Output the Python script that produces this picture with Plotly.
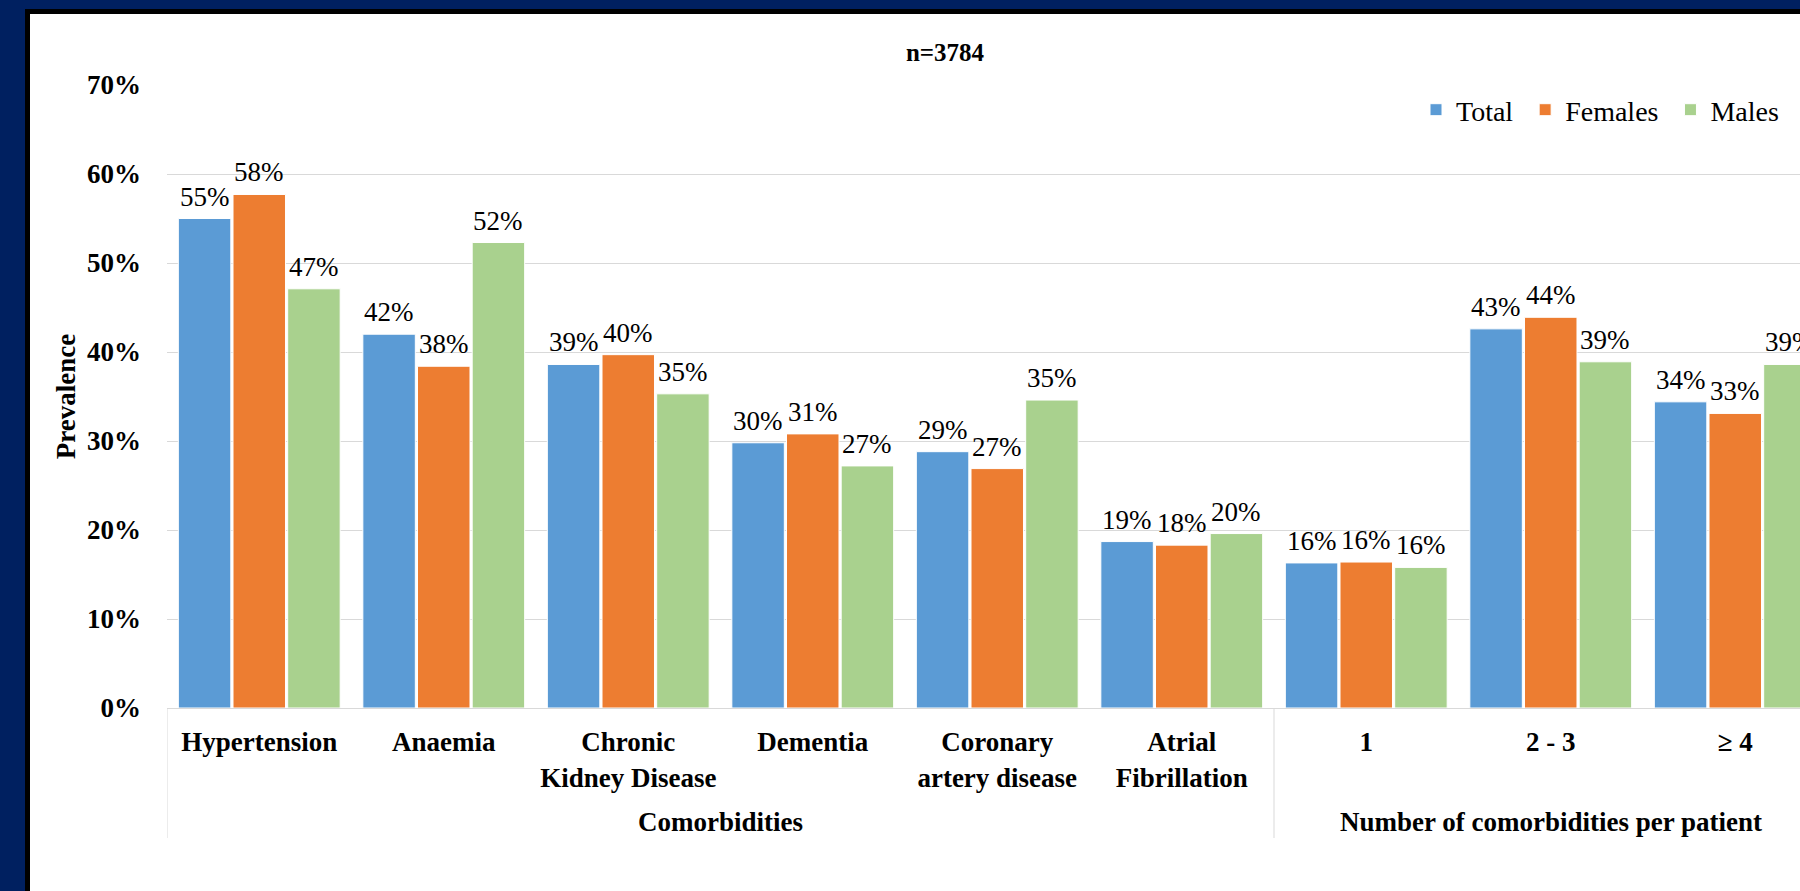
import plotly.graph_objects as go

# Prevalence of comorbidities, by sex (n=3784)
groups = ["Comorbidities", "Number of comorbidities per patient"]
group_sizes = [6, 3]
categories = [
    "Hypertension",
    "Anaemia",
    "Chronic<br>Kidney Disease",
    "Dementia",
    "Coronary<br>artery disease",
    "Atrial<br>Fibrillation",
    "1",
    "2 - 3",
    "≥ 4",
]
total = [0.550, 0.420, 0.386, 0.298, 0.288, 0.187, 0.163, 0.426, 0.344]
females = [0.577, 0.384, 0.397, 0.308, 0.269, 0.183, 0.164, 0.439, 0.331]
males = [0.471, 0.523, 0.353, 0.272, 0.346, 0.196, 0.158, 0.389, 0.386]

series_names = ["Total", "Females", "Males"]
series_colors = ["#5B9BD5", "#ED7D31", "#A9D18E"]
series_values = [total, females, males]

FONT = "Liberation Serif"
GRID = "#D9D9D9"
NBSP = "\u00a0"  # widens the gap between legend entries
W, H = 1800, 891
ML, MR, MT, MB = 167, 0, 85, 183
PW, PH = W - ML - MR, H - MT - MB
BARGAP = 0.111


def px_x(px):
    return (px - ML) / PW


def px_y(py):
    return (H - MB - py) / PH


idx = list(range(len(categories)))
n_series = len(series_names)

fig = go.Figure()
for k, (name, vals, color) in enumerate(zip(series_names, series_values, series_colors)):
    fig.add_trace(
        go.Bar(
            name=name + (NBSP if k < n_series - 1 else ""),
            x=idx,
            y=vals,
            marker=dict(color=color, line=dict(color="white", width=1)),
        )
    )

annotations = []
# value labels above each bar
slot = (1 - BARGAP) / n_series
for k, vals in enumerate(series_values):
    off = (k - (n_series - 1) / 2) * slot
    for i, v in zip(idx, vals):
        annotations.append(dict(
            x=i + off, y=v, xref="x", yref="y",
            text=f"{v:.0%}", showarrow=False,
            xanchor="center", yanchor="bottom", yshift=5,
            font=dict(family=FONT, size=27, color="black"),
        ))

shapes = [
    # dark frame edge and white chart area
    dict(type="rect", xref="paper", yref="paper", layer="below",
         x0=px_x(25), x1=px_x(W + 50), y0=px_y(H + 50), y1=px_y(9),
         fillcolor="black", line=dict(width=0)),
    dict(type="rect", xref="paper", yref="paper", layer="below",
         x0=px_x(30), x1=px_x(W + 50), y0=px_y(H + 50), y1=px_y(14),
         fillcolor="white", line=dict(width=0)),
]
# group labels and dividers of the two-level category axis
start = 0
bounds = [-0.5]
for g, n in zip(groups, group_sizes):
    annotations.append(dict(
        x=start + (n - 1) / 2, y=px_y(822), xref="x", yref="paper",
        text=g, showarrow=False, xanchor="center", yanchor="middle",
        font=dict(family=FONT, size=27, color="black", weight="bold"),
    ))
    start += n
    bounds.append(start - 0.5)
for b in bounds:
    shapes.append(dict(type="line", xref="x", yref="paper",
                       x0=b, x1=b, y0=0, y1=px_y(838),
                       line=dict(color=GRID, width=1)))

cat_px = 184.5
x_end = -0.5 + PW / cat_px

fig.update_layout(
    width=W,
    height=H,
    autosize=False,
    margin=dict(l=ML, r=MR, t=MT, b=MB, pad=0),
    paper_bgcolor="#002060",
    plot_bgcolor="white",
    barmode="group",
    bargap=BARGAP,
    bargroupgap=0.04,
    font=dict(family=FONT, color="black"),
    title=dict(
        text="n=3784",
        font=dict(family=FONT, size=25, color="black", weight="bold"),
        xref="paper",
        x=px_x(945),
        xanchor="center",
        yref="container",
        y=1 - 52 / H,
        yanchor="middle",
    ),
    legend=dict(
        orientation="h",
        x=px_x(1784),
        xanchor="right",
        y=px_y(110),
        yanchor="middle",
        font=dict(family=FONT, size=28, color="black"),
        bgcolor="rgba(0,0,0,0)",
        traceorder="normal",
    ),
    xaxis=dict(
        range=[-0.5, x_end],
        tickmode="array",
        tickvals=idx,
        ticktext=categories,
        showline=True,
        linecolor=GRID,
        linewidth=1,
        showgrid=False,
        zeroline=False,
        ticks="",
        ticklabelstandoff=10,
        tickfont=dict(family=FONT, size=27, color="black", weight="bold"),
    ),
    yaxis=dict(
        range=[0, 0.7],
        dtick=0.1,
        tickformat=".0%",
        showgrid=True,
        gridcolor=GRID,
        gridwidth=1,
        zeroline=False,
        ticks="",
        ticklabelstandoff=25,
        tickfont=dict(family=FONT, size=27, color="black", weight="bold"),
        title=dict(
            text="Prevalence",
            font=dict(family=FONT, size=27, color="black", weight="bold"),
            standoff=3,
        ),
    ),
    annotations=annotations,
    shapes=shapes,
)

fig.write_html("out.html")
